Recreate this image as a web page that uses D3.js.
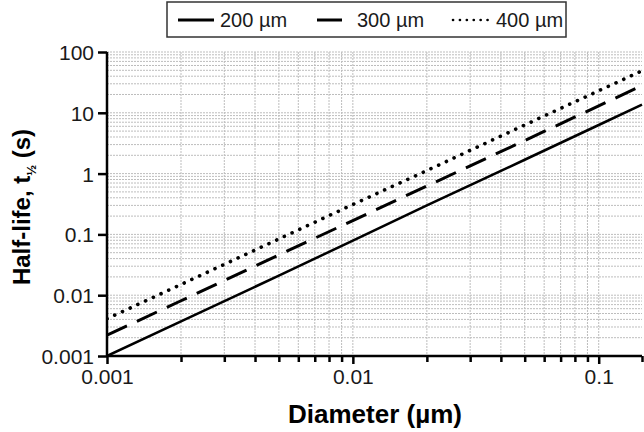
<!DOCTYPE html>
<html>
<head>
<meta charset="utf-8">
<script src="https://cdn.jsdelivr.net/npm/d3@7"></script>
<style>
  body { margin: 0; background: #fff; }
  text { font-family: "Liberation Sans", Arial, sans-serif; }
</style>
</head>
<body>
<div id="chart"></div>
<script>
var width = 644, height = 432;

const diameters = [0.001, 0.002, 0.005, 0.01, 0.02, 0.05, 0.1, 0.15];
// half-life (s) per series
const t200 = [0.001, 0.0037, 0.021, 0.079, 0.30, 1.69, 6.3, 13.6];
const t300 = [0.0022, 0.0081, 0.046, 0.169, 0.625, 3.5, 13.0, 28];
const t400 = [0.0041, 0.015, 0.084, 0.31, 1.12, 6.3, 23, 49];

const seriesNames = ["200 µm", "300 µm", "400 µm"];
const xTicks = [0.001, 0.01, 0.1];
const xTickLabels = ["0.001", "0.01", "0.1"];
const yTicks = [0.001, 0.01, 0.1, 1, 10, 100];
const yTickLabels = ["0.001", "0.01", "0.1", "1", "10", "100"];

const x = d3.scaleLog().domain([0.001, 0.15]).range([107, 642]);
const y = d3.scaleLog().domain([0.001, 100]).range([356, 52]);

// minor positions 1..9 per decade
function minors(lo, hi) {
  var out = [];
  for (var e = -4; e <= 3; e++) {
    for (var m = 1; m <= 9; m++) {
      var v = m * Math.pow(10, e);
      if (v >= lo * 0.9999 && v <= hi * 1.0001) out.push(v);
    }
  }
  return out;
}
const xGrid = minors(0.001, 0.15);
const yGrid = minors(0.001, 100);

const svg = d3.select("#chart").append("svg")
    .attr("width", width)
    .attr("height", height);

// grid
svg.append("g").selectAll("line")
    .data(yGrid)
    .join("line")
    .attr("x1", 107).attr("x2", 642)
    .attr("y1", d => y(d)).attr("y2", d => y(d))
    .attr("stroke", "#bdbdbd")
    .attr("stroke-width", 1)
    .attr("stroke-dasharray", "2,1");

svg.append("g").selectAll("line")
    .data(xGrid)
    .join("line")
    .attr("x1", d => x(d)).attr("x2", d => x(d))
    .attr("y1", 52).attr("y2", 356)
    .attr("stroke", "#bdbdbd")
    .attr("stroke-width", 1)
    .attr("stroke-dasharray", "2,1");

// curves
const styles = [
  { dash: null, w: 2.5, cap: "butt" },
  { dash: "22,11", w: 3, cap: "butt" },
  { dash: "0.1,8.4", w: 3.6, cap: "round" }
];
const allSeries = [t200, t300, t400];

svg.append("clipPath").attr("id", "clip")
  .append("rect").attr("x", 107).attr("y", 40).attr("width", 537).attr("height", 316);

const line = d3.line()
    .x(d => x(d[0]))
    .y(d => y(d[1]));

svg.append("g").attr("clip-path", "url(#clip)")
  .selectAll("path")
  .data(allSeries)
  .join("path")
    .attr("d", s => line(diameters.map((d, i) => [d, s[i]])))
    .attr("fill", "none")
    .attr("stroke", "#000")
    .attr("stroke-width", (s, i) => styles[i].w)
    .attr("stroke-linecap", (s, i) => styles[i].cap)
    .attr("stroke-dasharray", (s, i) => styles[i].dash);

// axes
const xMinor = xGrid.filter(d => xTicks.indexOf(d) < 0).concat([0.15]);

const gxMinor = svg.append("g")
    .attr("transform", "translate(0,356)")
    .call(d3.axisBottom(x).tickValues(xMinor).tickSize(6).tickFormat(""));

const gx = svg.append("g")
    .attr("transform", "translate(0,356)")
    .call(d3.axisBottom(x).tickValues(xTicks).tickSize(8)
      .tickFormat((d, i) => xTickLabels[i]).tickPadding(5));

const gy = svg.append("g")
    .attr("transform", "translate(107,0)")
    .call(d3.axisLeft(y).tickValues(yTicks).tickSize(9)
      .tickFormat((d, i) => yTickLabels[i]).tickPadding(4));

[gx, gy, gxMinor].forEach(function(g) {
  g.select(".domain").attr("stroke", "#000").attr("stroke-width", 2.5);
  g.selectAll(".tick line").attr("stroke", "#000").attr("stroke-width", 2.5);
  g.selectAll(".tick text")
    .attr("fill", "#1a1a1a")
    .style("font-size", "21px")
    .style("font-family", "'Liberation Sans', Arial, sans-serif");
});
gy.select(".domain").attr("d", "M0,356V52");
gx.select(".domain").attr("d", "M107,0H642");
gxMinor.select(".domain").remove();
gy.selectAll(".tick text").attr("dy", "0.36em");

// axis titles
svg.append("text")
    .attr("x", 375).attr("y", 423)
    .attr("text-anchor", "middle")
    .style("font-size", "26px")
    .style("font-weight", "bold")
    .text("Diameter (µm)");

const yt = svg.append("text")
    .attr("transform", "translate(30,207) rotate(-90)")
    .attr("text-anchor", "middle")
    .style("font-size", "24px")
    .style("font-weight", "bold");
yt.append("tspan").text("Half-life, t");
yt.append("tspan").attr("dy", 6).style("font-size", "13px").text("½");
yt.append("tspan").attr("dy", -6).text(" (s)");

// legend
const legend = svg.append("g");
legend.append("rect")
    .attr("x", 167).attr("y", 2)
    .attr("width", 399).attr("height", 35)
    .attr("fill", "#fff")
    .attr("stroke", "#333")
    .attr("stroke-width", 1.5);

const legendItems = [
  { x1: 178, x2: 214, tx: 220 },
  { x1: 317, x2: 342, tx: 357 },
  { x1: 453, x2: 492, tx: 496 }
];
legendItems.forEach(function(it, i) {
  legend.append("line")
    .attr("x1", it.x1).attr("x2", it.x2)
    .attr("y1", 20).attr("y2", 20)
    .attr("stroke", "#000")
    .attr("stroke-width", i === 2 ? 2.6 : 3)
    .attr("stroke-linecap", styles[i].cap)
    .attr("stroke-dasharray", i === 2 ? "0.1,6.8" : null);
  legend.append("text")
    .attr("x", it.tx).attr("y", 27)
    .style("font-size", "20px")
    .attr("fill", "#1a1a1a")
    .text(seriesNames[i]);
});
</script>
</body>
</html>
